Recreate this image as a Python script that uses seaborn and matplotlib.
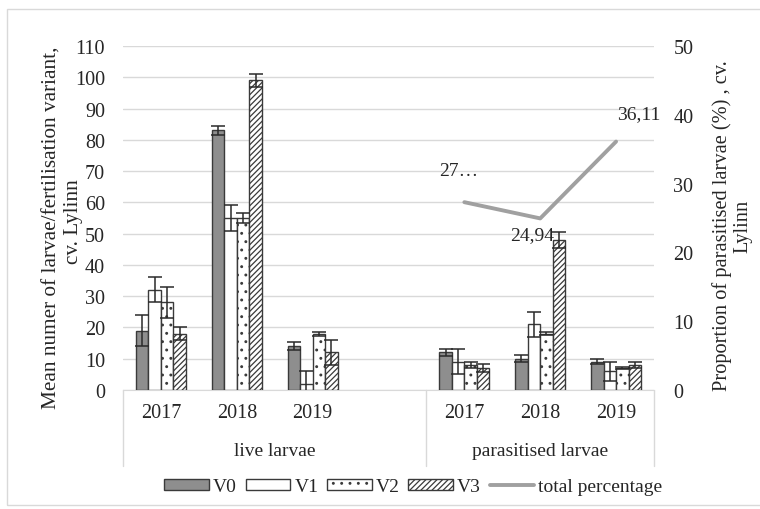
import matplotlib
matplotlib.use("Agg")
import matplotlib.pyplot as plt
import matplotlib.patches as mpatches
import matplotlib.lines as mlines
import seaborn as sns
import pandas as pd

# categories (the blank one leaves the gap between the two groups)
categories = ["live 2017", "live 2018", "live 2019", "gap",
              "parasitised 2017", "parasitised 2018", "parasitised 2019"]
year_labels = ["2017", "2018", "2019", "", "2017", "2018", "2019"]
groups = ["live larvae", "parasitised larvae"]
data_cats = ["live 2017", "live 2018", "live 2019",
             "parasitised 2017", "parasitised 2018", "parasitised 2019"]
variants = ["V0", "V1", "V2", "V3"]

v0 = [19, 83, 14, 12, 10, 9]
v1 = [32, 55, 2, 9, 21, 6]
v2 = [28, 55, 18, 8, 18, 7]
v3 = [18, 99, 12, 7, 48, 8]

v0_err = [5, 1.5, 1.2, 1.2, 1.2, 0.8]
v1_err = [4, 4, 4, 4, 4, 3]
v2_err = [5, 1.5, 0.6, 1, 0.5, 0.4]
v3_err = [2, 2, 4, 1.2, 2.5, 1]

pct_cats = ["parasitised 2017", "parasitised 2018", "parasitised 2019"]
pct = [27.3, 24.94, 36.11]
pct_labels = ["27…", "24,94", "36,11"]

left_label = ["Mean numer of larvae/fertilisation variant,", "cv. Lylinn"]
right_label = ["Proportion of parasitised larvae (%) , cv.", "Lylinn"]

sns.set_style("white")
plt.rcParams['font.family'] = ['Liberation Serif', 'DejaVu Serif']
plt.rcParams['hatch.linewidth'] = 0.9
plt.rcParams['hatch.color'] = '#333333'

FS = 14.5
TXT = "#262626"

rows = []
for vname, vals in zip(variants, [v0, v1, v2, v3]):
    for c, val in zip(data_cats, vals):
        rows.append({"cat": c, "variant": vname, "value": val})
df = pd.DataFrame(rows)
errs = dict(zip(variants, [v0_err, v1_err, v2_err, v3_err]))

fig = plt.figure(figsize=(7.6, 5.1), dpi=100)
ax = fig.add_axes([123 / 760, 1 - 391 / 510, 531 / 760, 344 / 510])

face = {"V0": "#8e8e8e", "V1": "white", "V2": "white", "V3": "white"}
hatches = {"V0": "", "V1": "", "V2": "..", "V3": "//////"}
edge = "#3a3a3a"

sns.barplot(data=df, x="cat", y="value", hue="variant", order=categories,
            hue_order=variants, palette=face, width=0.66, errorbar=None,
            edgecolor=edge, linewidth=1.0, gap=0, ax=ax, legend=False, zorder=3)

for vname, cont in zip(variants, ax.containers):
    bars = sorted([b for b in cont if b.get_height() > 0], key=lambda b: b.get_x())
    xs = [b.get_x() + b.get_width() / 2 for b in bars]
    hs = [b.get_height() for b in bars]
    for b in bars:
        b.set_hatch(hatches[vname])
    ax.errorbar(xs, hs, yerr=errs[vname][:len(xs)], fmt="none", ecolor="#2a2a2a",
                elinewidth=1.1, capsize=5, capthick=1.1, zorder=4)

ax.set_ylim(0, 110)
ax.set_xlim(-0.5, len(categories) - 0.5)
ax.set_yticks(range(0, 111, 10))
ax.yaxis.grid(True, color="#d9d9d9", linewidth=1.0, zorder=0)
ax.set_axisbelow(True)
ax.set_xticks(range(len(categories)))
ax.set_xticklabels(year_labels)
ax.tick_params(axis="both", length=0, labelsize=FS, colors=TXT)
ax.tick_params(axis="x", pad=9)
ax.tick_params(axis="y", pad=13)
ax.set_xlabel("")
ax.set_ylabel("")
for s in ["top", "right", "left"]:
    ax.spines[s].set_visible(False)
ax.spines["bottom"].set_color("#d9d9d9")

# group separators and group labels below the axis
tr = ax.get_xaxis_transform()
for xv in [-0.5, 3.5, 6.5]:
    ax.plot([xv, xv], [0, -0.22], transform=tr, color="#d9d9d9", lw=1.0, clip_on=False)
ax.text(1.5, -0.175, groups[0], transform=tr, ha="center", va="center",
        fontsize=14, color=TXT)
ax.text(5.0, -0.175, groups[1], transform=tr, ha="center", va="center",
        fontsize=14, color=TXT)

# secondary axis: total percentage
ax2 = ax.twinx()
line_df = pd.DataFrame({"x": [categories.index(c) for c in pct_cats], "pct": pct})
sns.lineplot(data=line_df, x="x", y="pct", color="#a0a0a0", linewidth=2.8, ax=ax2,
             zorder=5)
ax2.set_ylim(0, 50)
ax2.set_yticks(range(0, 51, 10))
ax2.tick_params(axis="y", length=0, labelsize=FS, colors=TXT, pad=14)
ax2.set_ylabel("")
ax2.set_xlabel("")
for s in ax2.spines.values():
    s.set_visible(False)
offsets = [(-4, 23), (-6, -12), (16, 20)]
for xv, yv, lab, off in zip(line_df["x"], pct, pct_labels, offsets):
    ax2.annotate(lab, (xv, yv), xytext=off, textcoords="offset points",
                 ha="center", va="center", fontsize=14, color=TXT)

# axis titles, one text per line
fig.text(52 / 760, 1 - 228 / 510, left_label[0], rotation=90, ha="center",
         va="center", fontsize=15.3, color=TXT)
fig.text(73.5 / 760, 1 - 222 / 510, left_label[1], rotation=90, ha="center",
         va="center", fontsize=15.3, color=TXT)
fig.text(722 / 760, 1 - 226 / 510, right_label[0], rotation=90, ha="center",
         va="center", fontsize=14.7, color=TXT)
fig.text(743 / 760, 1 - 226 / 510, right_label[1], rotation=90, ha="center",
         va="center", fontsize=14.7, color=TXT)

handles = [mpatches.Patch(facecolor=face[v], edgecolor=edge, hatch=hatches[v], lw=1.0)
           for v in variants]
handles.append(mlines.Line2D([], [], color="#a0a0a0", lw=2.8))
fig.legend(handles, variants + ["total percentage"], loc="center",
           bbox_to_anchor=(0.544, 1 - 488 / 510), ncol=5, frameon=False,
           fontsize=14, handlelength=2.3, handleheight=0.5,
           handletextpad=0.2, columnspacing=0.45)

fig.patches.append(mpatches.Rectangle((7 / 760, 4 / 510), 1.0, 1 - 14 / 510,
                                      transform=fig.transFigure, fill=False,
                                      edgecolor="#d9d9d9", lw=1.0))

fig.savefig("out.png", dpi=100)
